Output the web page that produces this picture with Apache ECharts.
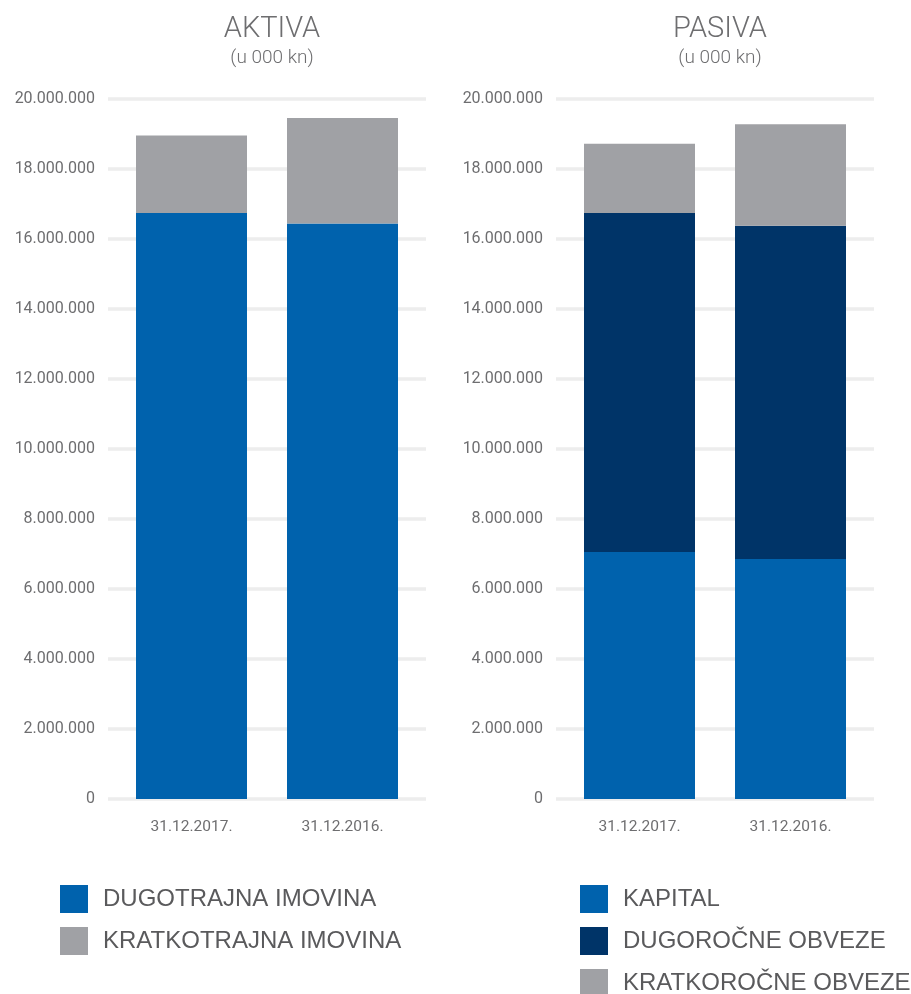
<!DOCTYPE html>
<html>
<head>
<meta charset="utf-8">
<script src="https://cdn.jsdelivr.net/npm/echarts@6/dist/echarts.min.js"></script>
<style>
html,body{margin:0;padding:0;background:#fff;}
#c{width:911px;height:994px;}
</style>
</head>
<body>
<div id="c"></div>
<script>
// ---- data ----
var categories = ['31.12.2017.', '31.12.2016.'];
var dugotrajnaImovina = [16740000, 16440000];
var kratkotrajnaImovina = [2220000, 3020000];
var kapital = [7060000, 6860000];
var dugorocneObveze = [9680000, 9520000];
var kratkorocneObveze = [1980000, 2900000];
var yTicks = { min: 0, max: 20000000, interval: 2000000 };
var titles = ['AKTIVA', 'PASIVA'];
var subtitle = '(u 000 kn)';

// ---- styles ----
var BLUE = '#0062ad', NAVY = '#003468', GRAY = '#a0a1a5';
var TXT = '#6e6e70';
var FONT = 'Roboto';

function fmt(v) {
  return String(v).replace(/\B(?=(\d{3})+(?!\d))/g, '.');
}

var chart = echarts.init(document.getElementById('c'), null, { renderer: 'canvas' });

var TOP = 99, H = 700;
function gridAxisY(gi, showAll) {
  return {
    type: 'value', gridIndex: gi, min: yTicks.min, max: yTicks.max, interval: yTicks.interval,
    show: showAll,
    axisLine: { show: false }, axisTick: { show: false },
    axisLabel: { show: showAll, formatter: fmt, color: TXT, fontSize: 16, fontFamily: FONT, margin: 13 },
    splitLine: { show: showAll, lineStyle: { color: '#ededed', width: 3.5 } }
  };
}
function gridAxisX(gi, showLabels) {
  return {
    type: 'category', gridIndex: gi, data: categories,
    show: showLabels,
    axisLine: { show: false }, axisTick: { show: false },
    axisLabel: { show: showLabels, color: TXT, fontSize: 15.5, fontFamily: FONT, margin: 20 }
  };
}
function legendCfg(left, names) {
  return {
    orient: 'vertical', left: left, top: 885, height: 140, padding: 0,
    itemWidth: 28, itemHeight: 28, itemGap: 14, icon: 'rect',
    data: names,
    textStyle: { fontFamily: 'Liberation Sans', fontSize: 24, color: '#5a5a5c', padding: [0, 0, 0, 10] }
  };
}

var option = {
  backgroundColor: '#fff',
  animation: false,
  title: [
    { text: titles[0], subtext: subtitle, left: 267, textAlign: 'center', top: 10, itemGap: 5,
      textStyle: { fontFamily: FONT, fontWeight: 300, fontSize: 29, color: TXT },
      subtextStyle: { fontFamily: FONT, fontWeight: 300, fontSize: 19, color: TXT } },
    { text: titles[1], subtext: subtitle, left: 715, textAlign: 'center', top: 10, itemGap: 5,
      textStyle: { fontFamily: FONT, fontWeight: 300, fontSize: 29, color: TXT },
      subtextStyle: { fontFamily: FONT, fontWeight: 300, fontSize: 19, color: TXT } }
  ],
  legend: [
    legendCfg(60, ['DUGOTRAJNA IMOVINA', 'KRATKOTRAJNA IMOVINA']),
    legendCfg(580, ['KAPITAL', 'DUGOROČNE OBVEZE', 'KRATKOROČNE OBVEZE'])
  ],
  grid: [
    { left: 108, width: 318, top: TOP, height: H },  // 0: left gridlines
    { left: 116, width: 302, top: TOP, height: H },  // 1: left bars
    { left: 556, width: 318, top: TOP, height: H },  // 2: right gridlines
    { left: 564, width: 302, top: TOP, height: H }   // 3: right bars
  ],
  xAxis: [gridAxisX(0, false), gridAxisX(1, true), gridAxisX(2, false), gridAxisX(3, true)],
  yAxis: [gridAxisY(0, true), gridAxisY(1, false), gridAxisY(2, true), gridAxisY(3, false)],
  series: [
    { name: 'DUGOTRAJNA IMOVINA', type: 'bar', stack: 'a', xAxisIndex: 1, yAxisIndex: 1, barWidth: 111,
      itemStyle: { color: BLUE }, data: dugotrajnaImovina },
    { name: 'KRATKOTRAJNA IMOVINA', type: 'bar', stack: 'a', xAxisIndex: 1, yAxisIndex: 1, barWidth: 111,
      itemStyle: { color: GRAY }, data: kratkotrajnaImovina },
    { name: 'KAPITAL', type: 'bar', stack: 'p', xAxisIndex: 3, yAxisIndex: 3, barWidth: 111,
      itemStyle: { color: BLUE }, data: kapital },
    { name: 'DUGOROČNE OBVEZE', type: 'bar', stack: 'p', xAxisIndex: 3, yAxisIndex: 3, barWidth: 111,
      itemStyle: { color: NAVY }, data: dugorocneObveze },
    { name: 'KRATKOROČNE OBVEZE', type: 'bar', stack: 'p', xAxisIndex: 3, yAxisIndex: 3, barWidth: 111,
      itemStyle: { color: GRAY }, data: kratkorocneObveze }
  ]
};
chart.setOption(option);
</script>
</body>
</html>
